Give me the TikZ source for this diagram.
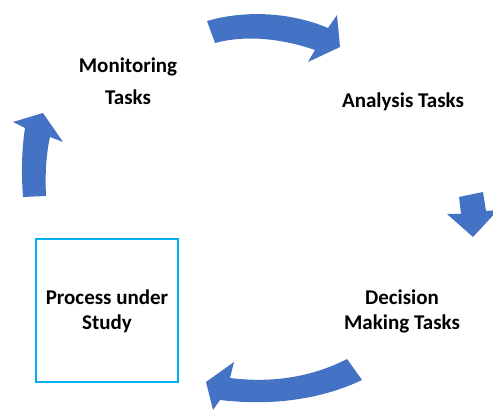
\documentclass[tikz,border=0pt]{standalone}
\usepackage{fontspec}
\setmainfont{Carlito}
\definecolor{arrowblue}{HTML}{4472C4}
\definecolor{boxblue}{HTML}{00B0F0}
\begin{document}
\begin{tikzpicture}[x=1pt,y=-1pt,
  lbl/.style={font=\bfseries\fontsize{21}{25}\selectfont, align=center, inner sep=0pt},
  blockarrow/.style={fill=arrowblue, draw=none}]
\useasboundingbox (0,0) rectangle (493,411);
% block arrows
\fill[blockarrow] (207,21) .. controls (245,10) and (290,12) .. (328,28) -- (337,15) -- (340,47) -- (308,62) -- (315,50) .. controls (280,38) and (245,35) .. (215,43) -- cycle;
\fill[blockarrow] (459,197) -- (483,192) -- (486,211) -- (498,210) -- (473,237) -- (447,214) -- (461,214) -- cycle;
\fill[blockarrow] (347,359) .. controls (310,378) and (270,383) .. (230,378) -- (234,362) -- (206,382) -- (213,410) -- (220,400) .. controls (270,406) and (320,400) .. (362,380) -- cycle;
\fill[blockarrow] (23,197) .. controls (21,170) and (22,148) .. (25,128) -- (13,122) -- (43,113) -- (63,142) -- (50,137) .. controls (46,155) and (45,175) .. (46,196) -- cycle;
% box
\node[draw=boxblue, line width=1.5pt, minimum width=142, minimum height=143, inner sep=0pt] (box) at (107,310.5) {};
\node[lbl] (proc) at (107,311) {Process under\\Study};
\node[lbl] (mon1) at (128,67) {Monitoring};
\node[lbl] (mon2) at (128,97) {Tasks};
\node[lbl] (ana) at (403,102) {Analysis Tasks};
\node[lbl] (dec) at (402,311) {Decision\\Making Tasks};
\end{tikzpicture}
\end{document}
